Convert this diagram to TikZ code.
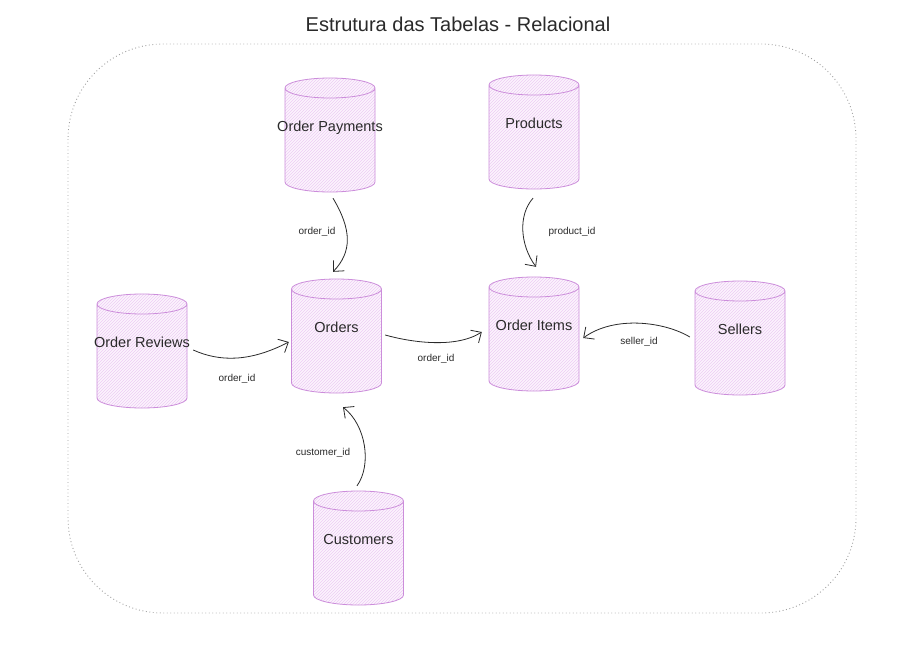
\documentclass[tikz,border=0pt]{standalone}
\usepackage{fontspec}
\setmainfont{Liberation Sans}
\usetikzlibrary{arrows.meta,patterns,calc}
\definecolor{cylline}{HTML}{CC8EDB}
\definecolor{cylbg}{HTML}{FCF4FD}
\definecolor{cylhatch}{HTML}{EDCCF4}
\definecolor{ink}{HTML}{2A2A2A}
\definecolor{framec}{HTML}{A0A0A0}
\newcommand\tabname[1]{\makebox[0pt]{#1}}
\begin{document}
\begin{tikzpicture}[x=1pt,y=-1pt,
  dbtable/.style={minimum width=92pt, minimum height=116pt, inner sep=0pt,
    text height=10pt, text depth=18pt, text=ink,
    font=\fontsize{14.5}{16}\selectfont,
    path picture={
      \path[fill=cylbg, postaction={pattern=north east lines, pattern color=cylhatch}]
        ([shift={(1pt,-11pt)}]path picture bounding box.north west)
        -- ([shift={(1pt,11pt)}]path picture bounding box.south west)
        arc[start angle=180, end angle=360, x radius=45pt, y radius=10pt]
        -- ([shift={(-1pt,-11pt)}]path picture bounding box.north east)
        arc[start angle=0, end angle=180, x radius=45pt, y radius=10pt]
        -- cycle;
      \draw[cylline, line width=0.8pt]
        ([shift={(1pt,-11pt)}]path picture bounding box.north west)
        -- ([shift={(1pt,11pt)}]path picture bounding box.south west)
        arc[start angle=180, end angle=360, x radius=45pt, y radius=10pt]
        -- ([shift={(-1pt,-11pt)}]path picture bounding box.north east)
        arc[start angle=0, end angle=180, x radius=45pt, y radius=10pt]
        arc[start angle=180, end angle=360, x radius=45pt, y radius=10pt];
    }},
  rel/.style={draw=ink, line width=0.8pt, -{Straight Barb[length=8pt,width=15pt]}},
  relabel/.style={font=\fontsize{10}{12}\selectfont, text=ink, inner sep=1pt}
]
\useasboundingbox (0,0) rectangle (915,645);
\fill[white] (0,0) rectangle (915,645);

\node[text=ink, font=\fontsize{20}{24}\selectfont] (title) at (458,24) {Estrutura das Tabelas - Relacional};

\draw[framec, line width=0.9pt, dash pattern=on 0.9pt off 2.6pt, rounded corners=95pt]
  (68,44) rectangle (856,613);

\node[dbtable] (pay)   at (330,135)   {\tabname{Order Payments}};
\node[dbtable] (prod)  at (534,132)   {\tabname{Products}};
\node[dbtable] (ord)   at (336.5,336) {\tabname{Orders}};
\node[dbtable] (items) at (534,334)   {\tabname{Order Items}};
\node[dbtable] (sell)  at (740,338)   {\tabname{Sellers}};
\node[dbtable] (rev)   at (142,351)   {\tabname{Order Reviews}};
\node[dbtable] (cust)  at (358.5,548) {\tabname{Customers}};

\draw[rel] ([shift={(3pt,-5pt)}]pay.south) .. controls (352,230) and (352,252) .. ([shift={(-3.5pt,6pt)}]ord.north);
\draw[rel] ([shift={(-1pt,-8pt)}]prod.south) .. controls (518,215) and (520,245) .. ([shift={(2pt,9pt)}]items.north);
\draw[rel] ([shift={(5pt,1pt)}]rev.east) .. controls (220,362) and (250,362) .. ([shift={(-1.5pt,-6pt)}]ord.west);
\draw[rel] ([shift={(2.5pt,1pt)}]ord.east) .. controls (410,342) and (455,349) .. ([shift={(-6pt,2pt)}]items.west);
\draw[rel] ([shift={(-4pt,1pt)}]sell.west) .. controls (665,322) and (615,315) .. ([shift={(3pt,-4pt)}]items.east);
\draw[rel] ([shift={(-1.5pt,4pt)}]cust.north) .. controls (372,465) and (366,425) .. ([shift={(6.5pt,-13pt)}]ord.south);

\node[relabel] (l1) at (317,232) {order\_id};
\node[relabel] (l2) at (572,232) {product\_id};
\node[relabel] (l3) at (237,379) {order\_id};
\node[relabel] (l4) at (436,359) {order\_id};
\node[relabel] (l5) at (639,342) {seller\_id};
\node[relabel] (l6) at (323,453) {customer\_id};
\end{tikzpicture}
\end{document}
